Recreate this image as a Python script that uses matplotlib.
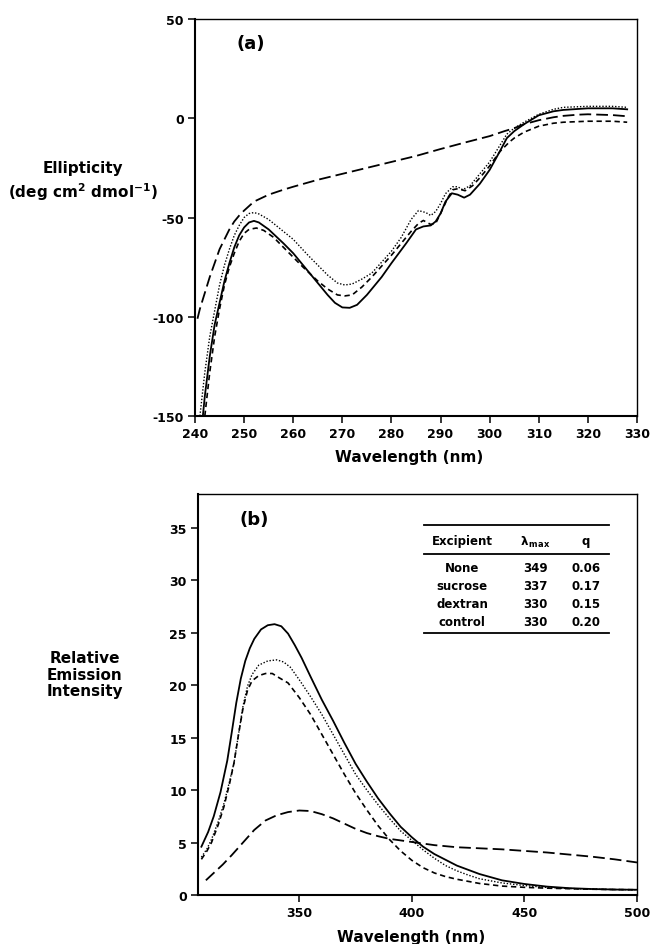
import matplotlib
matplotlib.use("Agg")
import matplotlib.pyplot as plt

plt.rcParams['font.family'] = ['DejaVu Sans']
plt.rcParams['font.weight'] = 'bold'
plt.rcParams['axes.labelweight'] = 'bold'
plt.rcParams['mathtext.fontset'] = 'dejavusans'
plt.rcParams['mathtext.default'] = 'bf'
plt.rcParams['axes.unicode_minus'] = False

# ---------------- Panel (a): CD spectra ----------------
a_solid_x = [241.6, 242, 243, 244, 245, 246, 247, 248, 249, 250, 251, 252, 253, 255, 258, 260,
             262, 265, 267, 268.5, 270, 271.5, 273, 275, 278, 280, 283, 285, 286.5, 288, 289,
             290, 291, 292.3, 293.5, 294.8, 296, 298, 300, 302, 303.5, 305, 307, 310, 313, 315,
             320, 325, 328]
a_solid_y = [-150, -140, -120, -104, -93, -82, -73, -65, -59, -55, -52.5, -51.7, -52.5, -56, -63, -68,
             -74, -83, -89, -93, -95.3, -95.5, -94, -89, -80, -73, -63, -56, -54.5, -54, -52,
             -48, -42, -37.8, -38.5, -40, -38.5, -33, -26, -17, -10, -6.5, -3, 1.5, 3.5, 4.2,
             5, 5, 4.5]

a_dot_x = [241, 242, 243, 244, 245, 246, 247, 248, 249, 250, 251, 252, 253, 255, 258, 260, 263,
           265, 267, 269, 270.5, 272, 274, 276, 278, 280, 282, 284, 285.5, 287, 288, 289, 290,
           291, 292.5, 293.5, 294.5, 296, 298, 300, 302, 303.5, 305, 307, 310, 313, 315, 320,
           325, 328]
a_dot_y = [-150, -128, -110, -97, -84, -74, -66, -59, -54, -50, -48, -47.5, -48.2, -51, -57, -61, -69,
           -74, -79, -83, -84, -83.5, -81, -78, -72.5, -67, -60, -51, -46.5, -47.5, -49, -47, -43,
           -38, -34.5, -34.5, -36, -34, -28, -22, -14, -8, -5, -2, 2, 4.5, 5.5, 6,
           6, 5.5]

a_dash_x = [242, 243, 244, 245, 246, 247, 248, 249, 250, 251, 252.5, 254, 256, 258, 260, 262, 265,
            267, 269, 270.5, 272, 274, 276, 278, 280, 282, 284, 285.5, 286.5, 288, 289, 290, 291.5,
            292.5, 293.5, 295, 296.5, 298, 300, 302, 304, 305, 307, 310, 313, 315, 320, 325, 328]
a_dash_y = [-150, -128, -110, -96, -84, -75, -68, -62, -58, -56, -55.3, -56.5, -60, -65, -70, -75, -82,
            -86, -89, -89.5, -89, -85, -80, -74.5, -69, -63, -57, -53, -51.5, -53.5, -53, -48, -40,
            -36, -35.5, -36.5, -34, -30, -24, -17, -12, -10, -7, -4, -2.5, -2, -1.5, -1.5, -2]

a_long_x = [240.5, 241, 242, 243, 244, 245, 246, 247, 248, 249, 250, 252, 255, 258, 260, 265, 270,
            275, 280, 285, 290, 295, 300, 303, 305, 307, 310, 313, 315, 318, 320, 325, 328]
a_long_y = [-101, -96, -88, -80, -73, -66, -61, -56, -52, -49, -46.5, -42, -38.5, -36, -34.5, -31, -28,
            -25, -22, -19, -15.5, -12.2, -9, -6.5, -5, -3, -1, 0.5, 1.2, 1.8, 2, 1.6, 1]

a_xticks = [240, 250, 260, 270, 280, 290, 300, 310, 320, 330]
a_yticks = [-150, -100, -50, 0, 50]

# ---------------- Panel (b): fluorescence emission ----------------
b_solid_x = [306.5, 309.5, 312, 315, 318, 320, 322, 324, 326, 328, 330, 333, 336, 339, 342, 345,
             348, 351, 355, 360, 365, 370, 375, 380, 385, 390, 395, 400, 405, 410, 420, 430, 440,
             450, 460, 470, 480, 490, 500]
b_solid_y = [4.6, 6.0, 7.5, 9.8, 12.8, 15.5, 18.3, 20.6, 22.3, 23.5, 24.4, 25.3, 25.7, 25.8, 25.6, 24.9,
             23.8, 22.6, 20.8, 18.6, 16.6, 14.5, 12.5, 10.8, 9.2, 7.8, 6.5, 5.5, 4.6, 3.9, 2.8, 2.0, 1.4,
             1.05, 0.8, 0.65, 0.57, 0.52, 0.5]

b_dot_x = [306.5, 309, 311, 314, 316.5, 319, 321, 323, 325, 327, 329, 332, 336, 340, 343, 346, 350,
           355, 360, 365, 370, 375, 380, 385, 390, 395, 400, 405, 410, 415, 420, 425, 430, 440, 450,
           460, 470, 480, 490, 500]
b_dot_y = [3.6, 4.4, 5.3, 7.0, 8.7, 10.8, 12.6, 15.3, 18.0, 19.9, 21.0, 21.9, 22.3, 22.4, 22.2, 21.7, 20.5,
           18.9, 17.2, 15.3, 13.4, 11.5, 10.0, 8.6, 7.3, 6.1, 5.2, 4.3, 3.5, 2.8, 2.3, 1.9, 1.55, 1.15, 0.9,
           0.72, 0.62, 0.56, 0.52, 0.5]

b_dash_x = [306.5, 309, 311, 314, 316.5, 319, 321, 323, 325, 327, 329, 332, 335, 338, 341, 345, 350,
            355, 360, 365, 370, 375, 380, 385, 390, 395, 400, 405, 410, 415, 420, 430, 440, 450, 460,
            470, 480, 490, 500]
b_dash_y = [3.4, 4.2, 5.0, 6.7, 8.4, 10.6, 12.6, 15.3, 17.8, 19.5, 20.4, 20.9, 21.1, 21.1, 20.7, 20.2, 18.8,
            17.2, 15.3, 13.4, 11.5, 9.7, 8.1, 6.6, 5.3, 4.2, 3.3, 2.6, 2.1, 1.75, 1.5, 1.1, 0.85, 0.73, 0.65,
            0.6, 0.55, 0.52, 0.5]

b_long_x = [308.5, 312, 316, 320, 325, 330, 335, 340, 345, 350, 355, 360, 365, 370, 375, 380, 385, 390,
            395, 400, 405, 410, 420, 430, 440, 450, 460, 470, 480, 490, 500]
b_long_y = [1.4, 2.1, 2.9, 3.8, 5.0, 6.2, 7.1, 7.6, 7.9, 8.05, 8.0, 7.7, 7.3, 6.8, 6.3, 5.9, 5.6, 5.35,
            5.2, 5.05, 4.9, 4.75, 4.55, 4.45, 4.35, 4.2, 4.05, 3.85, 3.65, 3.4, 3.1]

b_xticks = [350, 400, 450, 500]
b_yticks = [0, 5, 10, 15, 20, 25, 30, 35]

# inset table
tbl_header = ['Excipient', r'λ$_{\,max}$', 'q']
tbl_excipient = ['None', 'sucrose', 'dextran', 'control']
tbl_lmax = ['349', '337', '330', '330']
tbl_q = ['0.06', '0.17', '0.15', '0.20']

W, H = 650, 945
fig = plt.figure(figsize=(W / 100, H / 100), dpi=100)

def px_axes(l, r, t, b):
    return fig.add_axes([l / W, 1 - b / H, (r - l) / W, (b - t) / H])

ax1 = px_axes(195, 637, 20, 417)
ax2 = px_axes(198, 637, 495, 896)

solid_kw = dict(color='black', lw=1.3, linestyle='-')
dot_kw = dict(color='black', lw=1.0, linestyle=(0, (1.0, 1.3)))
dash_kw = dict(color='black', lw=1.2, linestyle=(0, (3.2, 2.2)))
long_kw = dict(color='black', lw=1.3, linestyle=(0, (6.5, 2.8)))

ax1.plot(a_long_x, a_long_y, **long_kw)
ax1.plot(a_dash_x, a_dash_y, **dash_kw)
ax1.plot(a_dot_x, a_dot_y, **dot_kw)
ax1.plot(a_solid_x, a_solid_y, **solid_kw)

ax2.plot(b_long_x, b_long_y, **long_kw)
ax2.plot(b_dash_x, b_dash_y, **dash_kw)
ax2.plot(b_dot_x, b_dot_y, **dot_kw)
ax2.plot(b_solid_x, b_solid_y, **solid_kw)

ax1.set_xlim(240, 330)
ax1.set_ylim(-150, 50)
ax1.set_xticks(a_xticks)
ax1.set_yticks(a_yticks)

ax2.set_xlim(305, 500)
ax2.set_ylim(0, 38.2)
ax2.set_xticks(b_xticks)
ax2.set_yticks(b_yticks)

for ax in (ax1, ax2):
    for s in ax.spines.values():
        s.set_linewidth(1.0)
    ax.spines['left'].set_linewidth(1.5)
    ax.spines['bottom'].set_linewidth(1.5)
    ax.tick_params(direction='out', length=5, width=1.1, labelsize=9, pad=3)
    for lab in ax.get_xticklabels() + ax.get_yticklabels():
        lab.set_fontweight('bold')
    ax.set_xlabel('Wavelength (nm)', fontsize=11, fontweight='bold', va='center')
    ax.xaxis.set_label_coords(0.485, -0.103)

ax1.text(0.095, 0.94, '(a)', transform=ax1.transAxes, fontsize=13, fontweight='bold',
         ha='left', va='center')
ax2.text(0.095, 0.937, '(b)', transform=ax2.transAxes, fontsize=13, fontweight='bold',
         ha='left', va='center')

# y labels
fig.text(83 / W, 1 - 168 / H, 'Ellipticity', ha='center', va='center', fontsize=11, fontweight='bold')
fig.text(83 / W, 1 - 192 / H, r'(deg cm$^{2}$ dmol$^{-1}$)', ha='center', va='center',
         fontsize=11, fontweight='bold')
fig.text(85 / W, 1 - 675 / H, 'Relative\nEmission\nIntensity', ha='center', va='center',
         fontsize=11, fontweight='bold', linespacing=1.15)

# inset table in panel (b)
def ax2f(xp, yp):
    return (xp - 198) / 439, (896 - yp) / 401

x0, _ = ax2f(424, 0)
x1, _ = ax2f(609, 0)
for yp, lw in ((526, 1.3), (555, 1.3), (634, 1.3)):
    _, yf = ax2f(0, yp)
    ax2.plot([x0, x1], [yf, yf], color='black', lw=lw, transform=ax2.transAxes, clip_on=False)

col_x = [ax2f(462, 0)[0], ax2f(535, 0)[0], ax2f(586, 0)[0]]
_, hy = ax2f(0, 542)
for cx, txt in zip(col_x, tbl_header):
    ax2.text(cx, hy, txt, transform=ax2.transAxes, ha='center', va='center',
             fontsize=8.5, fontweight='bold')
row_y = [ax2f(0, yp)[1] for yp in (568, 587, 605, 623)]
for ry, e, lm, qv in zip(row_y, tbl_excipient, tbl_lmax, tbl_q):
    ax2.text(col_x[0], ry, e, transform=ax2.transAxes, ha='center', va='center',
             fontsize=8.5, fontweight='bold')
    ax2.text(col_x[1], ry, lm, transform=ax2.transAxes, ha='center', va='center',
             fontsize=8.5, fontweight='bold')
    ax2.text(col_x[2], ry, qv, transform=ax2.transAxes, ha='center', va='center',
             fontsize=8.5, fontweight='bold')

fig.savefig('out.png', dpi=100)
